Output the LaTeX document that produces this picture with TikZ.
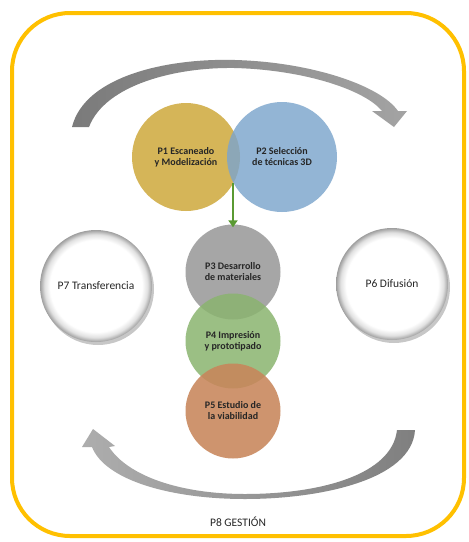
\documentclass[tikz,border=0pt]{standalone}
\usepackage{fontspec}
\setmainfont{Carlito}
\usetikzlibrary{arrows.meta,shadows}
\pgfdeclareradialshading{bevel}{\pgfpoint{0bp}{0bp}}{color(0bp)=(white); color(20.5bp)=(white); color(23bp)=(black!12); color(25bp)=(black!38); color(50bp)=(black!38)}
\definecolor{gold}{HTML}{FFC000}
\definecolor{pyellow}{HTML}{D5B558}
\definecolor{pblue}{HTML}{7CA5CC}
\definecolor{pgray}{HTML}{A6A6A6}
\definecolor{pgreen}{HTML}{8AB46F}
\definecolor{porange}{HTML}{C8865B}
\definecolor{arrowgreen}{HTML}{5A9A32}
\definecolor{txt}{HTML}{262626}
\begin{document}
\begin{tikzpicture}[x=1pt,y=-1pt,
  core/.style={circle, inner sep=0pt, minimum size=#1, align=center, text=txt,
    font=\bfseries\fontsize{10}{11}\selectfont},
  side/.style={circle, inner sep=0pt, minimum size=112pt, align=center, text=txt,
    shading=bevel, font=\fontsize{11.5}{13}\selectfont,
    drop shadow={shadow xshift=2pt, shadow yshift=-3pt, fill=black, opacity=0.22}},
  flow/.style={arrowgreen, line width=2pt, -{Triangle[width=9pt,length=7pt]}}
]
\useasboundingbox (0,0) rectangle (469,542);
\fill[white] (0,0) rectangle (469,542);
\draw[gold, line width=4pt, rounded corners=58pt] (12,13) rectangle (464,536);

% top curved arrow
\shade[left color=black!52, right color=black!36]
  (72,127) .. controls (85,75) and (170,58) .. (235,60)
  .. controls (310,62) and (380,85) .. (398,111)
  -- (407,111) -- (394,127) -- (372,111) -- (382,111)
  .. controls (365,90) and (305,70) .. (235,68)
  .. controls (175,67) and (105,85) .. (89,127) -- cycle;

% bottom curved arrow
\shade[left color=black!32, right color=black!50]
  (415,430) .. controls (412,480) and (320,499) .. (245,499)
  .. controls (170,499) and (105,480) .. (92,447)
  -- (82,447) -- (93,429) -- (115,446) -- (109,447)
  .. controls (128,476) and (180,494) .. (245,494)
  .. controls (320,494) and (392,475) .. (397,430) -- cycle;

% central circles
\node[core=108pt, fill=pyellow] (p1) at (186,157) {P1 Escaneado\\y Modelización};
\node[core=110pt, fill=pblue, fill opacity=0.82, text opacity=1] (p2) at (282,157) {P2 Selección\\de técnicas 3D};
\node[core=95pt, fill=pgray] (p3) at (233,272) {P3 Desarrollo\\de materiales};
\node[core=95pt, fill=pgreen, fill opacity=0.85, text opacity=1] (p4) at (233,341) {P4 Impresión\\y prototipado};
\node[core=95pt, fill=porange, fill opacity=0.88, text opacity=1] (p5) at (233,411) {P5 Estudio de\\la viabilidad};

% side circles
\node[side] (p7) at (96,286) {P7 Transferencia};
\node[side] (p6) at (392,284) {P6 Difusión};

% green arrow
\coordinate (ov) at (233,183);
\draw[flow] (ov) -- ([yshift=-3pt]p3.north);

% management label
\node[text=txt, font=\fontsize{11.5}{13}\selectfont] (p8) at (238,522) {P8 GESTIÓN};
\end{tikzpicture}
\end{document}
